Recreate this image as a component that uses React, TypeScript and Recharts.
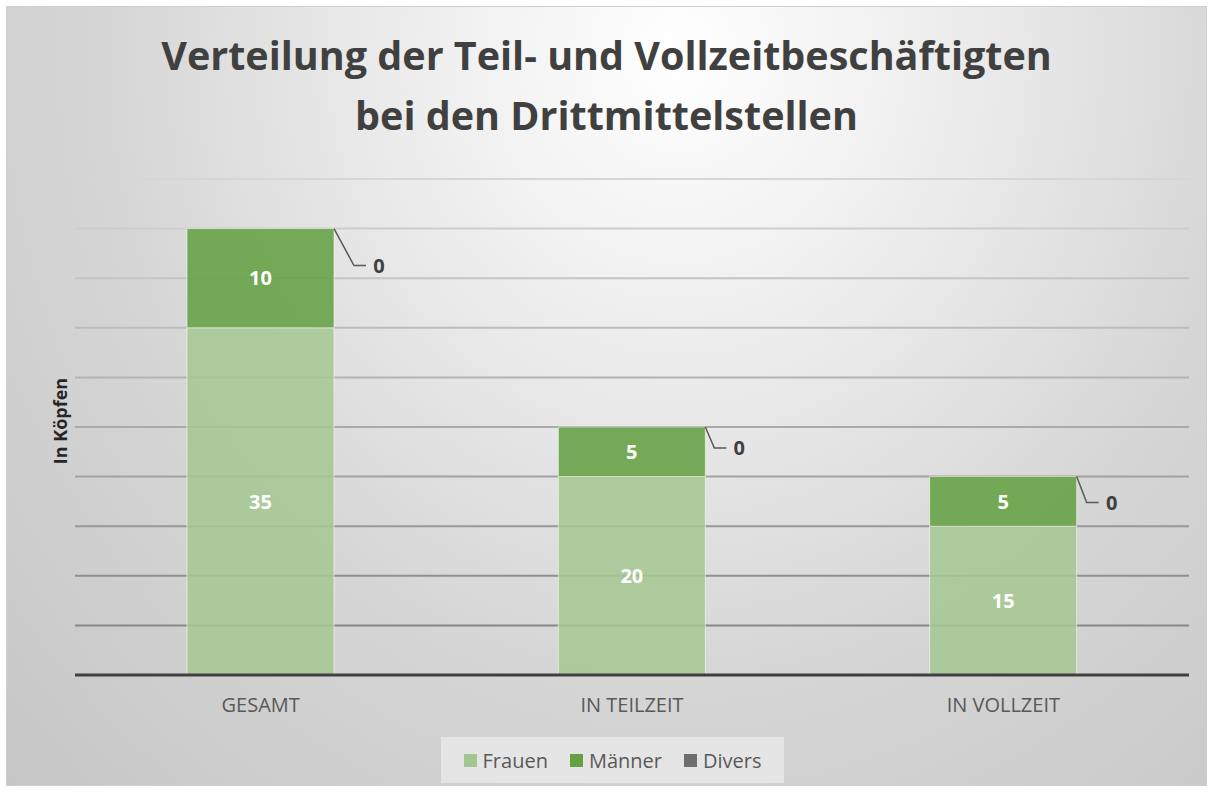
import React from 'react';
import { Bar, BarChart, CartesianGrid, LabelList, XAxis, YAxis } from 'recharts';

const categories = ['GESAMT', 'IN TEILZEIT', 'IN VOLLZEIT'];
const frauen = [35, 20, 15];
const maenner = [10, 5, 5];
const divers = [0, 0, 0];
const yTicks = [0, 5, 10, 15, 20, 25, 30, 35, 40, 45, 50];

const series = [
  { key: 'frauen', name: 'Frauen', color: '#A4C792' },
  { key: 'maenner', name: 'Männer', color: '#64A143' },
  { key: 'divers', name: 'Divers', color: '#6E6E6E' },
];

const chartData = categories.map((name, i) => ({
  name,
  frauen: frauen[i],
  maenner: maenner[i],
  divers: divers[i],
}));

const FONT = '"Open Sans", "Noto Sans", sans-serif';

// leader line geometry for the "Divers" labels (per category)
const leaderDx = [20, 9, 10];
const leaderDy = [37, 21, 26];

// Divers is 0 everywhere, so its label sits on top of the Männer segment
function DiversLabel(props: any) {
  const { x, y, width, value, index } = props;
  const sx = x + width;
  const ex = sx + leaderDx[index];
  const ey = y + leaderDy[index];
  return (
    <g>
      <polyline
        points={`${sx},${y} ${ex},${ey} ${ex + 12},${ey}`}
        fill="none"
        stroke="#595959"
        strokeWidth={1.5}
      />
      <text
        x={ex + 25}
        y={ey + 7}
        textAnchor="middle"
        fontFamily={FONT}
        fontWeight={700}
        fontSize={20}
        fill="#404040"
      >
        {value}
      </text>
    </g>
  );
}

const innerLabel = {
  fill: '#ffffff',
  fontSize: 20,
  fontWeight: 700,
  fontFamily: FONT,
};

// lines get darker towards the bottom of the plot
function gridLine(props: any) {
  const { x1, x2, y1, y2, index } = props;
  const t = Math.min(1, Math.max(0, (y1 - 172) / 450));
  const c = Math.round(214 - t * 80);
  return (
    <line
      key={`grid-${index}-${y1}`}
      x1={x1}
      x2={x2}
      y1={y1}
      y2={y2}
      stroke={`rgb(${c},${c},${c})`}
      strokeWidth={2}
    />
  );
}

export default function App() {
  return (
    <div
      style={{
        position: 'absolute',
        left: 6,
        top: 6,
        width: 1201,
        height: 780,
        boxSizing: 'border-box',
        border: '1px solid #cfcfcf',
        background:
          'radial-gradient(ellipse farthest-corner at 56% 6%, #ffffff 0%, #ececec 30%, #d6d6d6 60%, #c6c6c6 100%)',
        fontFamily: FONT,
      }}
    >
      <div
        style={{
          position: 'absolute',
          left: 0,
          width: '100%',
          top: 18,
          textAlign: 'center',
          fontWeight: 700,
          fontSize: 39.5,
          lineHeight: '60px',
          color: '#404040',
        }}
      >
        Verteilung der Teil- und Vollzeitbeschäftigten
        <br />
        bei den Drittmittelstellen
      </div>
      <div
        style={{
          position: 'absolute',
          left: 53,
          top: 414,
          transform: 'translate(-50%, -50%) rotate(-90deg)',
          fontWeight: 700,
          fontSize: 18,
          color: '#262626',
          whiteSpace: 'nowrap',
        }}
      >
        In Köpfen
      </div>
      <div style={{ position: 'absolute', left: 0, top: 0 }}>
        <BarChart
          width={1201}
          height={780}
          data={chartData}
          margin={{ top: 172, right: 19, bottom: 72, left: 67 }}
        >
          <CartesianGrid vertical={false} horizontal={gridLine} />
          <YAxis
            domain={[0, 50]}
            ticks={yTicks}
            width={1}
            tick={{ fill: 'none', fontSize: 1 }}
            axisLine={false}
            tickLine={false}
          />
          <XAxis
            dataKey="name"
            height={40}
            tickLine={false}
            axisLine={{ stroke: '#404040', strokeWidth: 3 }}
            tickMargin={17}
            tick={{ fill: '#595959', fontSize: 20, fontFamily: FONT }}
          />
          <Bar
            dataKey="frauen"
            name="Frauen"
            stackId="a"
            barSize={147}
            fill={series[0].color}
            fillOpacity={0.86}
            stroke="rgba(255,255,255,0.55)"
            strokeWidth={1}
            isAnimationActive={false}
          >
            <LabelList dataKey="frauen" position="center" style={innerLabel} />
          </Bar>
          <Bar
            dataKey="maenner"
            name="Männer"
            stackId="a"
            barSize={147}
            fill={series[1].color}
            fillOpacity={0.88}
            stroke="rgba(255,255,255,0.55)"
            strokeWidth={1}
            isAnimationActive={false}
          >
            <LabelList dataKey="maenner" position="center" style={innerLabel} />
            <LabelList dataKey="divers" content={DiversLabel} />
          </Bar>
          <Bar
            dataKey="divers"
            name="Divers"
            stackId="a"
            barSize={147}
            fill={series[2].color}
            isAnimationActive={false}
          />
        </BarChart>
      </div>
      <div
        style={{
          position: 'absolute',
          left: 434,
          top: 730,
          width: 343,
          height: 46,
          background: 'rgba(235,235,235,0.75)',
          display: 'flex',
          alignItems: 'center',
          justifyContent: 'center',
          gap: 22,
          fontSize: 20,
          color: '#595959',
        }}
      >
        {series.map((s) => (
          <div key={s.key} style={{ display: 'flex', alignItems: 'center', gap: 6 }}>
            <span
              style={{
                display: 'inline-block',
                width: 13,
                height: 13,
                background: s.color,
              }}
            />
            {s.name}
          </div>
        ))}
      </div>
    </div>
  );
}
